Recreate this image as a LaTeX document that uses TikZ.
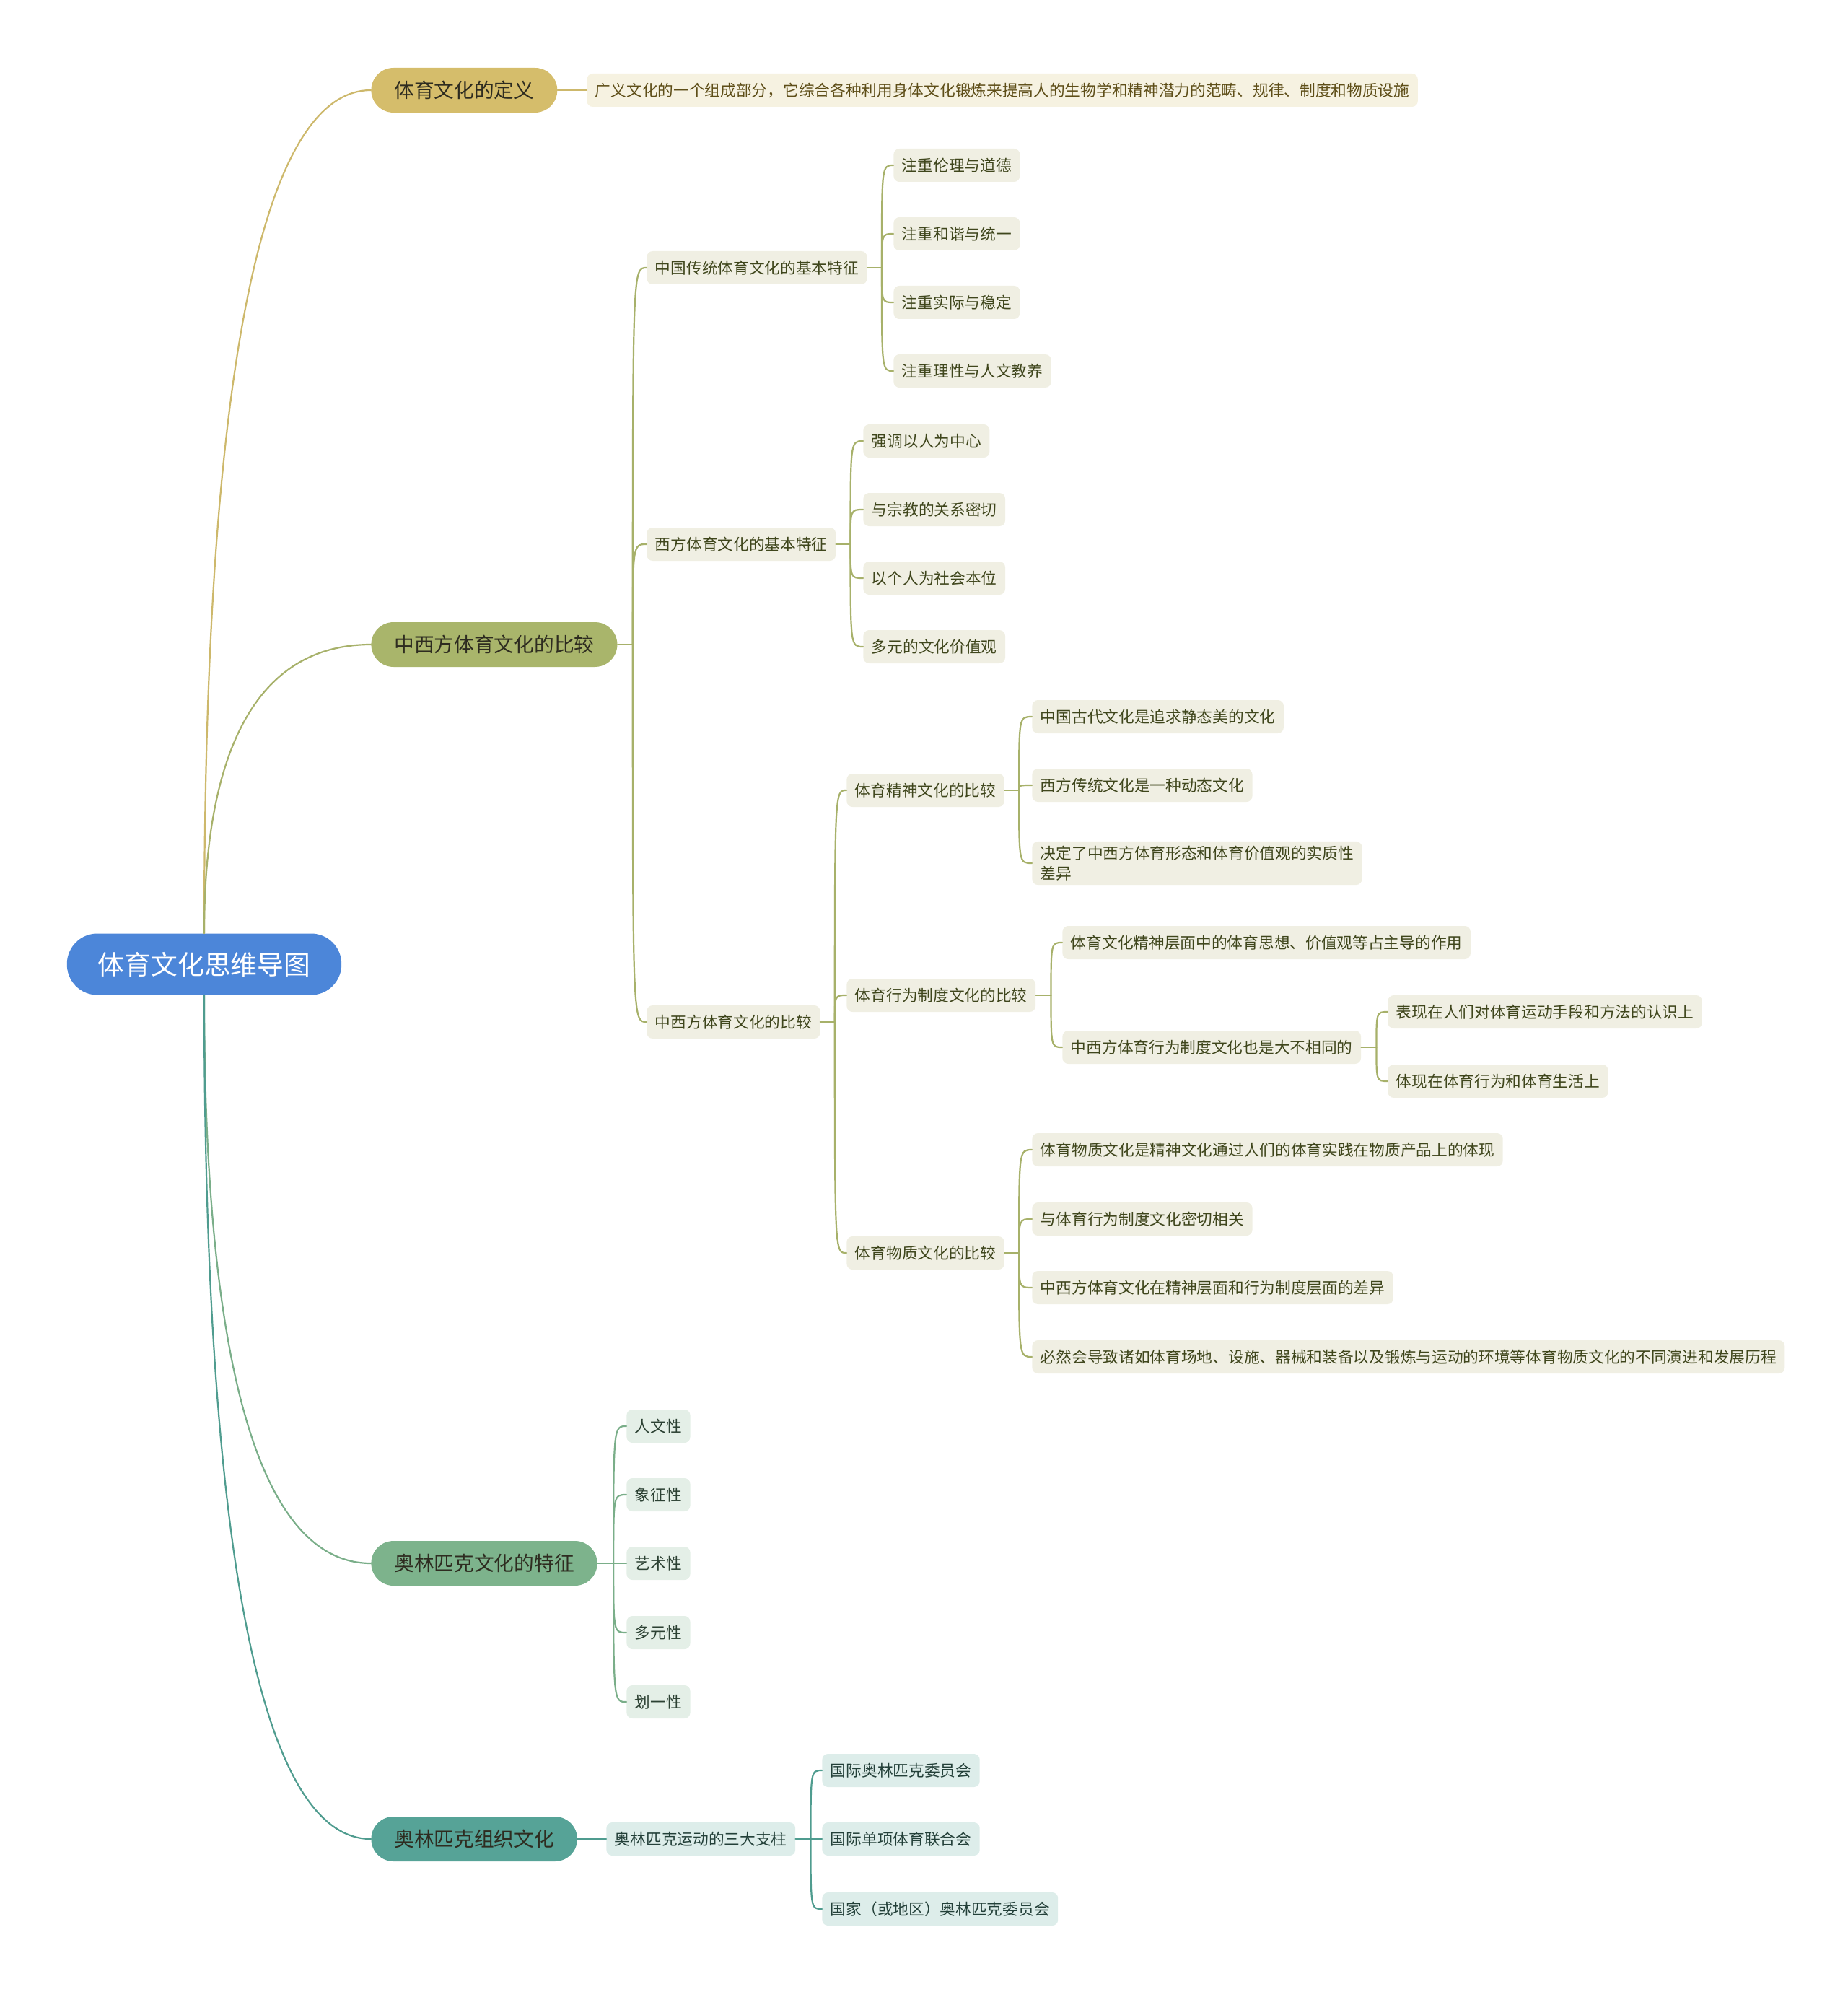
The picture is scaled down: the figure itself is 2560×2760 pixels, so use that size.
\documentclass[tikz,border=0pt]{standalone}
\usepackage{fontspec}
\setmainfont{Noto Sans CJK SC}
\usetikzlibrary{calc}
\definecolor{rootc}{HTML}{4C86D9}
\definecolor{goldc}{HTML}{D5BD6B}
\definecolor{goldl}{HTML}{CDB86B}
\definecolor{goldleaf}{HTML}{F6F2E1}
\definecolor{goldtxt}{HTML}{5E4E18}
\definecolor{olivec}{HTML}{A9B56B}
\definecolor{olivel}{HTML}{A7B16A}
\definecolor{oliveleaf}{HTML}{F0EFE3}
\definecolor{olivetxt}{HTML}{3F461C}
\definecolor{greenc}{HTML}{7DB38C}
\definecolor{greenl}{HTML}{7AAE89}
\definecolor{greenleaf}{HTML}{E4EFE7}
\definecolor{greentxt}{HTML}{2C4133}
\definecolor{tealc}{HTML}{56A397}
\definecolor{teall}{HTML}{4F9C8F}
\definecolor{tealleaf}{HTML}{DDEDEA}
\definecolor{tealtxt}{HTML}{234039}
\definecolor{lonetxt}{HTML}{2E2C20}
\begin{document}
\begin{tikzpicture}[x=0.5pt,y=-0.5pt,
  rootbox/.style={fill=rootc,text=white,rounded corners=21pt,minimum height=42.5pt,inner xsep=21.5pt,font=\fontsize{18.4pt}{22pt}\selectfont},
  lone/.style={rounded corners=15.5pt,minimum height=31pt,inner xsep=16pt,text=lonetxt,anchor=west,font=\fontsize{13.85pt}{16pt}\selectfont},
  leaf/.style={rounded corners=4pt,minimum height=23pt,inner xsep=5.75pt,inner ysep=3pt,anchor=west,align=left,font=\fontsize{10.85pt}{14pt}\selectfont},
  gleaf/.style={leaf,fill=goldleaf,text=goldtxt},
  oleaf/.style={leaf,fill=oliveleaf,text=olivetxt},
  eleaf/.style={leaf,fill=greenleaf,text=greentxt},
  tleaf/.style={leaf,fill=tealleaf,text=tealtxt},
  lk/.style={line width=1.1pt,line cap=round}
]
\useasboundingbox (0,0) rectangle (2560,2760);

% root and level 1
\node[rootbox] (root) at (283,1336) {体育文化思维导图};
\node[lone,fill=goldc] (def) at (514,125) {体育文化的定义};
\node[lone,fill=olivec] (cmp) at (514,893) {中西方体育文化的比较};
\node[lone,fill=greenc] (oly) at (514,2166) {奥林匹克文化的特征};
\node[lone,fill=tealc] (org) at (514,2548) {奥林匹克组织文化};

\draw[lk,goldl] (root.north) .. controls (283,501) and (366,125) .. (def.west);
\draw[lk,olivel] (root.north) .. controls (283,1022) and (366,893) .. (cmp.west);
\draw[lk,greenl] (root.south) .. controls (283,1913) and (366,2166) .. (oly.west);
\draw[lk,teall] (root.south) .. controls (283,2172) and (366,2548) .. (org.west);

% definition
\node[gleaf] (defl) at (813,125) {广义文化的一个组成部分，它综合各种利用身体文化锻炼来提高人的生物学和精神潜力的范畴、规律、制度和物质设施};
\draw[lk,goldl] (def.east) -- (defl.west);

% comparison branch
\node[oleaf] (c1) at (896,371) {中国传统体育文化的基本特征};
\node[oleaf] (c2) at (896,754) {西方体育文化的基本特征};
\node[oleaf] (c3) at (896,1416) {中西方体育文化的比较};

\node[oleaf] (c11) at (1238,229) {注重伦理与道德};
\node[oleaf] (c12) at (1238,324) {注重和谐与统一};
\node[oleaf] (c13) at (1238,419) {注重实际与稳定};
\node[oleaf] (c14) at (1238,514) {注重理性与人文教养};

\node[oleaf] (c21) at (1196,611) {强调以人为中心};
\node[oleaf] (c22) at (1196,706) {与宗教的关系密切};
\node[oleaf] (c23) at (1196,801) {以个人为社会本位};
\node[oleaf] (c24) at (1196,896) {多元的文化价值观};

\node[oleaf] (c31) at (1173,1095) {体育精神文化的比较};
\node[oleaf] (c32) at (1173,1379) {体育行为制度文化的比较};
\node[oleaf] (c33) at (1173,1736) {体育物质文化的比较};

\node[oleaf] (c311) at (1430,993) {中国古代文化是追求静态美的文化};
\node[oleaf] (c312) at (1430,1088) {西方传统文化是一种动态文化};
\node[oleaf] (c313) at (1430,1196) {决定了中西方体育形态和体育价值观的实质性\\差异};

\node[oleaf] (c321) at (1472,1306) {体育文化精神层面中的体育思想、价值观等占主导的作用};
\node[oleaf] (c322) at (1472,1451) {中西方体育行为制度文化也是大不相同的};
\node[oleaf] (c3221) at (1923,1402) {表现在人们对体育运动手段和方法的认识上};
\node[oleaf] (c3222) at (1923,1498) {体现在体育行为和体育生活上};

\node[oleaf] (c331) at (1430,1593) {体育物质文化是精神文化通过人们的体育实践在物质产品上的体现};
\node[oleaf] (c332) at (1430,1689) {与体育行为制度文化密切相关};
\node[oleaf] (c333) at (1430,1784) {中西方体育文化在精神层面和行为制度层面的差异};
\node[oleaf] (c334) at (1430,1880) {必然会导致诸如体育场地、设施、器械和装备以及锻炼与运动的环境等体育物质文化的不同演进和发展历程};

% olympic features
\node[eleaf] (o1) at (868,1976) {人文性};
\node[eleaf] (o2) at (868,2071) {象征性};
\node[eleaf] (o3) at (868,2166) {艺术性};
\node[eleaf] (o4) at (868,2262) {多元性};
\node[eleaf] (o5) at (868,2358) {划一性};

% olympic organisation
\node[tleaf] (g1) at (840,2548) {奥林匹克运动的三大支柱};
\node[tleaf] (g11) at (1139,2453) {国际奥林匹克委员会};
\node[tleaf] (g12) at (1139,2548) {国际单项体育联合会};
\node[tleaf] (g13) at (1139,2645) {国家（或地区）奥林匹克委员会};
\draw[lk,teall] (org.east) -- (g1.west);

% brackets
\draw[lk,olivel] (cmp.east) -- ++(21,0) coordinate (jcmp);
\foreach \c in {c1,c2,c3} \draw[lk,olivel] (jcmp) .. controls (jcmp |- \c.west) .. (\c.west);
\draw[lk,olivel] (c1.east) -- ++(20,0) coordinate (jc1);
\foreach \c in {c11,c12,c13,c14} \draw[lk,olivel] (jc1) .. controls (jc1 |- \c.west) .. (\c.west);
\draw[lk,olivel] (c2.east) -- ++(20,0) coordinate (jc2);
\foreach \c in {c21,c22,c23,c24} \draw[lk,olivel] (jc2) .. controls (jc2 |- \c.west) .. (\c.west);
\draw[lk,olivel] (c3.east) -- ++(20,0) coordinate (jc3);
\foreach \c in {c31,c32,c33} \draw[lk,olivel] (jc3) .. controls (jc3 |- \c.west) .. (\c.west);
\draw[lk,olivel] (c31.east) -- ++(20,0) coordinate (jc31);
\foreach \c in {c311,c312,c313} \draw[lk,olivel] (jc31) .. controls (jc31 |- \c.west) .. (\c.west);
\draw[lk,olivel] (c32.east) -- ++(21,0) coordinate (jc32);
\foreach \c in {c321,c322} \draw[lk,olivel] (jc32) .. controls (jc32 |- \c.west) .. (\c.west);
\draw[lk,olivel] (c322.east) -- ++(21,0) coordinate (jc322);
\foreach \c in {c3221,c3222} \draw[lk,olivel] (jc322) .. controls (jc322 |- \c.west) .. (\c.west);
\draw[lk,olivel] (c33.east) -- ++(20,0) coordinate (jc33);
\foreach \c in {c331,c332,c333,c334} \draw[lk,olivel] (jc33) .. controls (jc33 |- \c.west) .. (\c.west);
\draw[lk,greenl] (oly.east) -- ++(22,0) coordinate (joly);
\foreach \c in {o1,o2,o3,o4,o5} \draw[lk,greenl] (joly) .. controls (joly |- \c.west) .. (\c.west);
\draw[lk,teall] (g1.east) -- ++(21,0) coordinate (jg1);
\foreach \c in {g11,g12,g13} \draw[lk,teall] (jg1) .. controls (jg1 |- \c.west) .. (\c.west);
\end{tikzpicture}
\end{document}
